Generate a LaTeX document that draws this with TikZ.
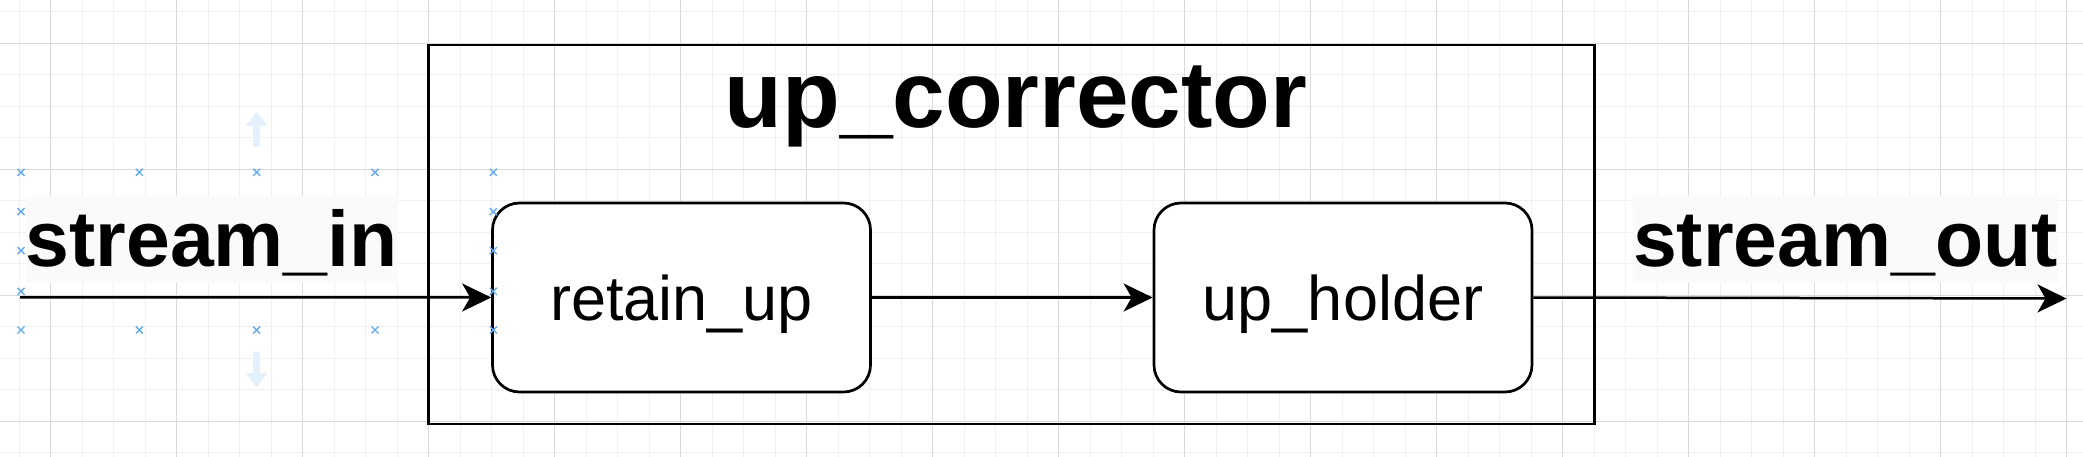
\documentclass[tikz,border=0pt]{standalone}
\usepackage{fontspec}
\setmainfont{Liberation Sans}
\usetikzlibrary{arrows.meta}
\definecolor{gridmajor}{RGB}{218,218,218}
\definecolor{gridminor}{RGB}{240,240,240}
\definecolor{handle}{RGB}{100,170,240}
\definecolor{hoverarrow}{RGB}{228,241,253}
\definecolor{labelbg}{RGB}{250,250,250}
\tikzset{
  block/.style={draw=black, line width=2.7pt, fill=white, rounded corners=27pt,
    minimum width=378pt, minimum height=189pt, inner sep=0pt,
    text height=60pt, text depth=15pt, font=\fontsize{63}{70}\selectfont},
  container/.style={draw=black, line width=2.7pt, minimum width=1166pt,
    minimum height=379pt, inner sep=0pt},
  titletext/.style={font=\bfseries\fontsize{94.5}{100}\selectfont, anchor=base, inner sep=0pt},
  streamlabel/.style={font=\bfseries\fontsize{78.75}{85}\selectfont, anchor=base,
    inner sep=0pt, text height=70.7pt, text depth=16.6pt, fill=labelbg},
  flow/.style={line width=2.5pt, -{Stealth[length=29pt, width=28pt, inset=8pt]}},
  handlemark/.style={draw=handle, line width=1.4pt},
  gridminorline/.style={draw=gridminor, line width=1pt},
  gridmajorline/.style={draw=gridmajor, line width=1pt},
}
\begin{document}
\begin{tikzpicture}[x=1pt,y=-1pt]
\useasboundingbox (0,0) rectangle (2083,457);
\fill[white] (0,0) rectangle (2083,457);
% grid
\foreach \k in {0,...,65}{\draw[gridminorline] ({19.2+31.5*\k},0) -- ({19.2+31.5*\k},457);}
\foreach \k in {0,...,14}{\draw[gridminorline] (0,{11.8+31.5*\k}) -- (2083,{11.8+31.5*\k});}
\foreach \k in {0,...,16}{\draw[gridmajorline] ({50.7+126*\k},0) -- ({50.7+126*\k},457);}
\foreach \k in {0,...,3}{\draw[gridmajorline] (0,{43.3+126*\k}) -- (2083,{43.3+126*\k});}

% container
\node[container] (cont) at (1011.7,234.5) {};
\node[titletext] (title) at (1016,127.3) {up\_corrector};

% blocks
\node[block] (ru) at (681.5,297.5) {retain\_up};
\node[block] (uh) at (1343,297.5) {up\_holder};

% labels
\node[streamlabel] (sin) at (211.7,266.7) {stream\_in};
\node[streamlabel] (sout) at (1845.3,266.7) {stream\_out};

% connectors
\coordinate (src) at (20,297.3);
\coordinate (sink) at (2066.5,298.5);
\draw[flow] (src) -- (ru.west);
\draw[flow] (ru.east) -- (uh.west);
\draw[flow] (uh.east) -- (sink);

% hover arrows
\fill[hoverarrow] (253.2,147) -- (253.2,126) -- (245.7,126) -- (256.7,112) -- (267.7,126) -- (260.2,126) -- (260.2,147) -- cycle;
\fill[hoverarrow] (253.2,351.7) -- (253.2,373) -- (245.7,373) -- (256.7,387.3) -- (267.7,373) -- (260.2,373) -- (260.2,351.7) -- cycle;

% selection handles
\foreach \x/\y in {21/172.3,139.3/172.3,256.7/172.3,375/172.3,493.3/172.3,
  21/330,139.3/330,256.7/330,375/330,493.3/330,
  21/211.7,21/250.7,21/291.3,493.3/211.7,493.3/250.7,493.3/291.3}{
  \draw[handlemark] (\x-3.5,\y-3.5) -- (\x+3.5,\y+3.5) (\x-3.5,\y+3.5) -- (\x+3.5,\y-3.5);
}
\end{tikzpicture}
\end{document}
